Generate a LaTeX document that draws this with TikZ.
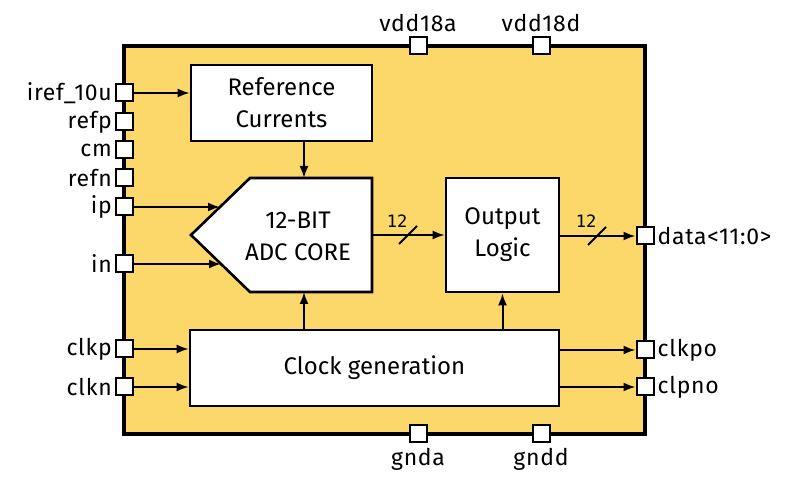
\documentclass[tikz,border=0pt]{standalone}
\usepackage{fontspec}
\setmainfont{Fira Sans}
\newfontfamily\monof{DejaVu Sans Mono}
\newfontfamily\pinf[LetterSpace=3]{Fira Sans}
\usetikzlibrary{arrows.meta}
\definecolor{chip}{RGB}{252,215,106}
\begin{document}
\begin{tikzpicture}[x=1pt,y=-1pt,
  pinbox/.style={draw, fill=white, line width=2pt, minimum size=17pt, inner sep=0pt},
  blk/.style={draw, fill=white, line width=2.6pt, inner sep=0pt, align=center, font=\fontsize{24}{32}\selectfont},
  arr/.style={line width=2pt, -{Latex[length=12pt,width=9pt]}},
  wire/.style={line width=2pt},
  lbl/.style={font=\pinf\fontsize{23}{26}\selectfont, inner sep=1pt},
  buslbl/.style={font=\monof\fontsize{17}{18}\selectfont, inner sep=0pt}
]
\useasboundingbox (0,0) rectangle (807,478);
% chip outline
\node[draw, fill=chip, line width=3.6pt, minimum width=521pt, minimum height=388pt, inner sep=0pt] (chip) at (384.5,240) {};

% blocks
\node[blk, minimum width=181pt, minimum height=76pt] (ref) at (281.5,103) {Reference\\Currents};
\node[blk, minimum width=113pt, minimum height=114pt] (out) at (502.5,235) {Output\\Logic};
\node[blk, minimum width=369pt, minimum height=76pt] (clk) at (374.5,368) {Clock generation};
\coordinate (adcL) at (191,235);
\coordinate (adcTL) at (250,178);
\coordinate (adcTR) at (372,178);
\coordinate (adcBR) at (372,292);
\coordinate (adcBL) at (250,292);
\draw[fill=white, line width=2.6pt, line join=miter] (adcL) -- (adcTL) -- (adcTR) -- (adcBR) -- (adcBL) -- cycle;
\node[align=center, font=\fontsize{24}{32}\selectfont, inner sep=0pt] (adc) at (298,236) {12-BIT\\ADC CORE};
\coordinate (adcTop) at (304,178);
\coordinate (adcBot) at (304,292);
\coordinate (adcOut) at (372,235);
\coordinate (adcIp) at (220,207);
\coordinate (adcIn) at (221,264);

% pins
\node[pinbox, label={[lbl, label distance=2pt]left:iref\_10u}] (piref) at (124.5,93) {};
\node[pinbox, label={[lbl, label distance=2pt]left:refp}] (prefp) at (124.5,122) {};
\node[pinbox, label={[lbl, label distance=2pt]left:cm}] (pcm) at (124.5,150) {};
\node[pinbox, label={[lbl, label distance=2pt]left:refn}] (prefn) at (124.5,178) {};
\node[pinbox, label={[lbl, label distance=2pt]left:ip}] (pip) at (124.5,207) {};
\node[pinbox, label={[lbl, label distance=2pt]left:in}] (pin) at (124.5,264) {};
\node[pinbox, label={[lbl, label distance=2pt]left:clkp}] (pclkp) at (124.5,349) {};
\node[pinbox, label={[lbl, label distance=2pt]left:clkn}] (pclkn) at (124.5,387) {};
\node[pinbox, label={[lbl, label distance=2pt]right:data<11:0>}] (pdata) at (645,236) {};
\node[pinbox, label={[lbl, label distance=2pt]right:clkpo}] (pclkpo) at (645,350) {};
\node[pinbox, label={[lbl, label distance=2pt]right:clpno}] (pclpno) at (645,387) {};
\node[pinbox, label={[lbl, label distance=4pt]above:vdd18a}] (pvdda) at (418,46) {};
\node[pinbox, label={[lbl, label distance=4pt]above:vdd18d}] (pvddd) at (541,46) {};
\node[pinbox, label={[lbl, label distance=4pt]below:gnda}] (pgnda) at (418,434) {};
\node[pinbox, label={[lbl, label distance=4pt]below:gndd}] (pgndd) at (541,434) {};

% connectors
\draw[arr] (piref.east) -- (piref.east -| ref.west);
\draw[arr] (pip.east) -- (adcIp);
\draw[arr] (pin.east) -- (adcIn);
\draw[arr] (ref.south -| adcTop) -- (adcTop);
\draw[arr] (clk.north -| adcBot) -- (adcBot);
\draw[arr] (clk.north -| out.south) -- (out.south);
\draw[arr] (adcOut) -- (adcOut -| out.west);
\draw[arr] (out.east |- pdata) -- (pdata.west);
\draw[arr] (pclkp.east) -- (pclkp.east -| clk.west);
\draw[arr] (pclkn.east) -- (pclkn.east -| clk.west);
\draw[arr] (clk.east |- pclkpo) -- (pclkpo.west);
\draw[arr] (clk.east |- pclpno) -- (pclpno.west);

% bus slashes
\draw[wire] (408,235) ++(-9,9) -- ++(18,-18);
\node[buslbl] (bus1) at (397,221) {12};
\draw[wire] (597,236) ++(-9,9) -- ++(18,-18);
\node[buslbl] (bus2) at (586,221) {12};
\end{tikzpicture}
\end{document}
